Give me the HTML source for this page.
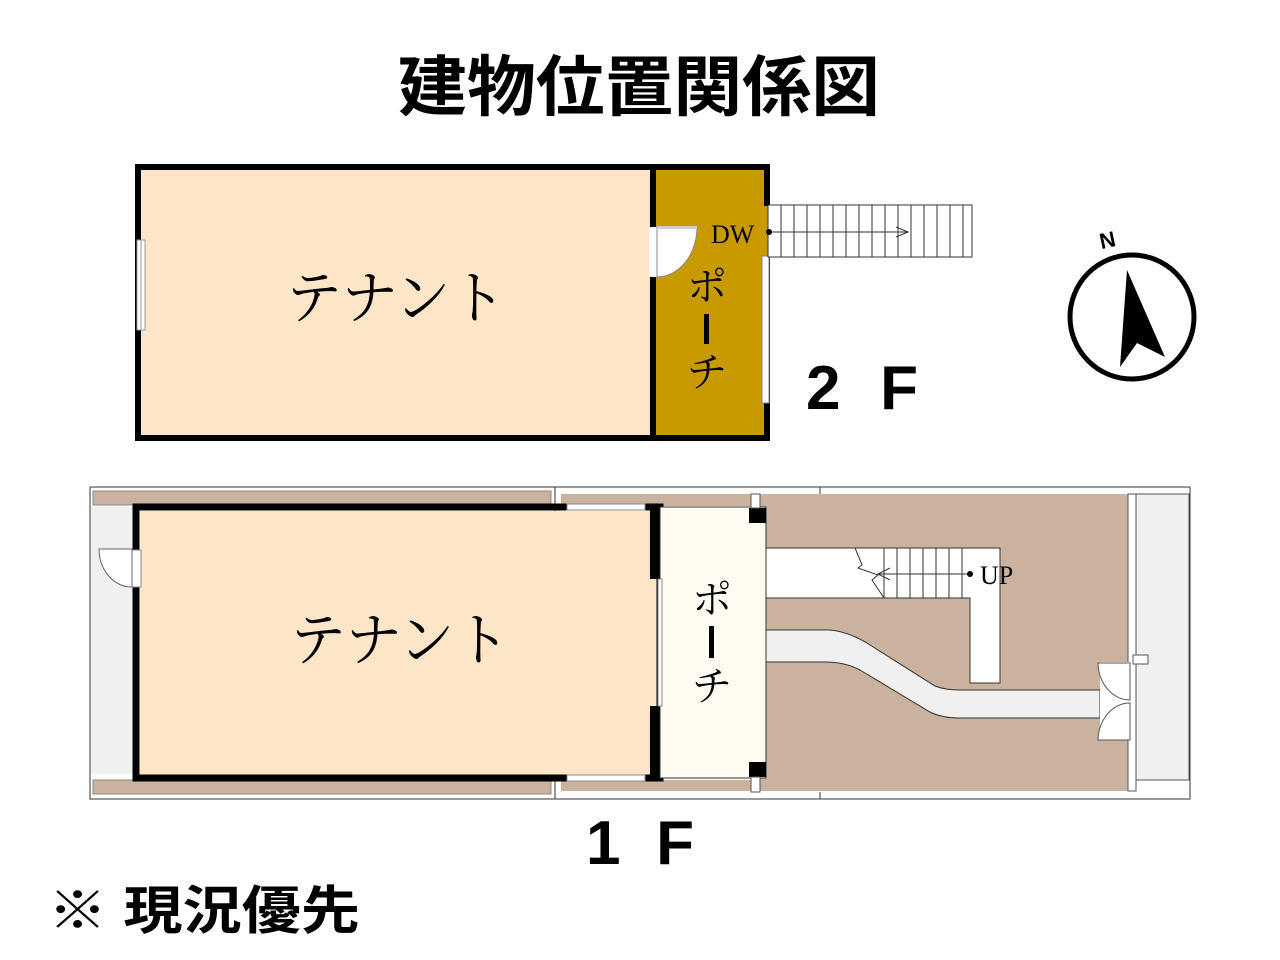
<!DOCTYPE html>
<html><head><meta charset="utf-8"><style>
html,body{margin:0;padding:0;background:#fff;width:1280px;height:960px;overflow:hidden}
svg{display:block}
.j{font-family:"Liberation Serif","Noto Serif CJK SC",serif}
.b{font-family:"Liberation Sans","Noto Sans CJK JP",sans-serif;font-weight:bold}
</style></head><body>
<svg width="1280" height="960" viewBox="0 0 1280 960" xmlns="http://www.w3.org/2000/svg">
<text x="398" y="110" textLength="482" lengthAdjust="spacingAndGlyphs" class="b" font-size="66" fill="#000">建物位置関係図</text>

<!-- 2F -->
<rect x="141" y="170" width="512" height="265" fill="#fde5c8"/>
<rect x="653" y="170" width="111" height="265" fill="#c99a00"/>
<rect x="138" y="167" width="629" height="271" fill="none" stroke="#000" stroke-width="6"/>
<rect x="650" y="170" width="6" height="265" fill="#000"/>
<rect x="137" y="240" width="8" height="90" fill="#fff" stroke="#999" stroke-width="1"/>
<line x1="141" y1="240" x2="141" y2="330" stroke="#999"/>
<rect x="649" y="227" width="8" height="50" fill="#fff"/>
<path d="M657 227 L697 227 A40 50 0 0 1 657 277 Z" fill="#fff" stroke="#888"/>
<rect x="657" y="226" width="40" height="3" fill="#ccc"/>
<rect x="763" y="206" width="8" height="50" fill="#c99a00"/>
<rect x="762" y="256" width="7" height="147" fill="#fff" stroke="#888"/>
<rect x="768" y="205" width="204" height="52" fill="#fff" stroke="#333"/>
<g stroke="#333" stroke-width="1">
<line x1="781" y1="205" x2="781" y2="257"/><line x1="794" y1="205" x2="794" y2="257"/><line x1="807" y1="205" x2="807" y2="257"/><line x1="820" y1="205" x2="820" y2="257"/><line x1="833" y1="205" x2="833" y2="257"/><line x1="846" y1="205" x2="846" y2="257"/><line x1="859" y1="205" x2="859" y2="257"/><line x1="872" y1="205" x2="872" y2="257"/><line x1="885" y1="205" x2="885" y2="257"/><line x1="898" y1="205" x2="898" y2="257"/><line x1="911" y1="205" x2="911" y2="257"/><line x1="924" y1="205" x2="924" y2="257"/><line x1="937" y1="205" x2="937" y2="257"/><line x1="950" y1="205" x2="950" y2="257"/><line x1="963" y1="205" x2="963" y2="257"/>
<line x1="768" y1="232" x2="908" y2="232"/>
<polyline points="896,227 908,232 896,237" fill="none"/>
</g>
<circle cx="769" cy="232" r="3" fill="#000"/>
<text x="711" y="243" class="j" font-size="26" fill="#000">DW</text>
<text x="286" y="318" textLength="220" lengthAdjust="spacingAndGlyphs" class="j" font-size="58" fill="#000">テナント</text>
<text x="707" y="300" class="j" font-size="40" text-anchor="middle" fill="#000">ポ</text>
<rect x="704" y="314" width="5" height="30" fill="#000"/>
<text x="707" y="386" class="j" font-size="40" text-anchor="middle" fill="#000">チ</text>
<text x="806" y="409" textLength="112" lengthAdjust="spacing" class="b" font-size="62" fill="#000">2 F</text>

<!-- compass -->
<circle cx="1132" cy="317" r="62" fill="none" stroke="#000" stroke-width="5"/>
<text x="1101" y="247" class="b" font-size="22" fill="#000" transform="rotate(-12 1111 247)">N</text>
<polygon points="1127,270 1120,367 1137,343 1165,357" fill="#000"/>

<!-- 1F -->
<rect x="90" y="487" width="1100" height="312" fill="#fff" stroke="#333" stroke-width="1"/>
<rect x="93" y="491" width="458" height="14" fill="#c9b39e" stroke="#888" stroke-width="1"/>
<rect x="93" y="780" width="458" height="14" fill="#c9b39e" stroke="#888" stroke-width="1"/>
<rect x="561" y="494" width="200" height="12" fill="#c9b39e"/>
<rect x="561" y="780" width="200" height="11" fill="#c9b39e"/>
<rect x="760" y="494" width="368" height="297" fill="#c9b39e"/>
<line x1="820" y1="487" x2="820" y2="494" stroke="#333"/>
<line x1="820" y1="792" x2="820" y2="799" stroke="#333"/>
<line x1="555" y1="487" x2="555" y2="799" stroke="#333"/>
<rect x="91" y="507" width="46" height="267" fill="#f0f0f0"/>
<rect x="1136" y="494" width="53" height="286" fill="#f0f0f0" stroke="#555" stroke-width="1"/>
<rect x="1128" y="494" width="8" height="297" fill="#fff" stroke="#555" stroke-width="1"/>
<path d="M766 548 L1000 548 L1000 683 L970 683 L970 598 L766 598 Z" fill="#fff" stroke="#333"/>
<g stroke="#333" stroke-width="1">
<line x1="884" y1="548" x2="884" y2="598"/><line x1="897" y1="548" x2="897" y2="598"/><line x1="910" y1="548" x2="910" y2="598"/><line x1="923" y1="548" x2="923" y2="598"/><line x1="936" y1="548" x2="936" y2="598"/><line x1="949" y1="548" x2="949" y2="598"/><line x1="962" y1="548" x2="962" y2="598"/>
<line x1="878" y1="574" x2="970" y2="574"/>
<polyline points="890,568 878,574 890,580" fill="none"/>
<polyline points="855,548 862,565 858,568 878,575 872,580 884,598" fill="none"/>
</g>
<circle cx="970" cy="574" r="3" fill="#000"/>
<text x="980" y="584" class="j" font-size="26" fill="#000">UP</text>
<path d="M766 630 L830 630 Q850 632 870 645 L935 686 Q945 690 960 690 L1100 690 L1100 718 L960 718 Q942 718 930 712 L860 670 Q845 662 825 662 L766 662 Z" fill="#f0f0f0" stroke="#333"/>
<rect x="1100" y="662" width="30" height="78" fill="#fff"/>
<path d="M1130 663 L1098 663 A32 38 0 0 0 1130 700 Z" fill="#fff" stroke="#555"/>
<path d="M1130 740 L1098 740 A32 38 0 0 1 1130 703 Z" fill="#fff" stroke="#555"/>
<rect x="1133" y="655" width="15" height="9" fill="#fff" stroke="#555"/>
<rect x="140" y="511" width="517" height="264" fill="#fde5c8"/>
<rect x="136" y="507" width="524" height="271" fill="none" stroke="#000" stroke-width="7"/>
<rect x="132" y="550" width="9" height="37" fill="#fff" stroke="#888"/>
<path d="M132 549 L99 549 A33 38 0 0 0 132 587 Z" fill="#fff" stroke="#666"/>
<rect x="567" y="504" width="78" height="6" fill="#fff" stroke="#888"/>
<rect x="567" y="775" width="78" height="6" fill="#fff" stroke="#888"/>
<rect x="660" y="507" width="106" height="271" fill="#fffbf0" stroke="#333" stroke-width="1"/>
<rect x="650" y="507" width="8" height="72" fill="#000"/>
<rect x="650" y="706" width="8" height="72" fill="#000"/>
<rect x="658" y="579" width="4" height="127" fill="#fff" stroke="#888"/>
<rect x="749" y="508" width="17" height="15" fill="#000"/>
<rect x="749" y="762" width="17" height="15" fill="#000"/>
<rect x="751" y="494" width="9" height="14" fill="#fff" stroke="#555"/>
<rect x="751" y="777" width="9" height="15" fill="#fff" stroke="#555"/>
<text x="290" y="660" textLength="220" lengthAdjust="spacingAndGlyphs" class="j" font-size="58" fill="#000">テナント</text>
<text x="712" y="613" class="j" font-size="40" text-anchor="middle" fill="#000">ポ</text>
<rect x="709" y="626" width="5" height="32" fill="#000"/>
<text x="712" y="700" class="j" font-size="40" text-anchor="middle" fill="#000">チ</text>
<text x="586" y="864" textLength="108" lengthAdjust="spacing" class="b" font-size="62" fill="#000">1 F</text>
<text x="48" y="929" textLength="312" lengthAdjust="spacingAndGlyphs" class="b" font-size="52" fill="#000">※ 現況優先</text>
</svg>
</body></html>
